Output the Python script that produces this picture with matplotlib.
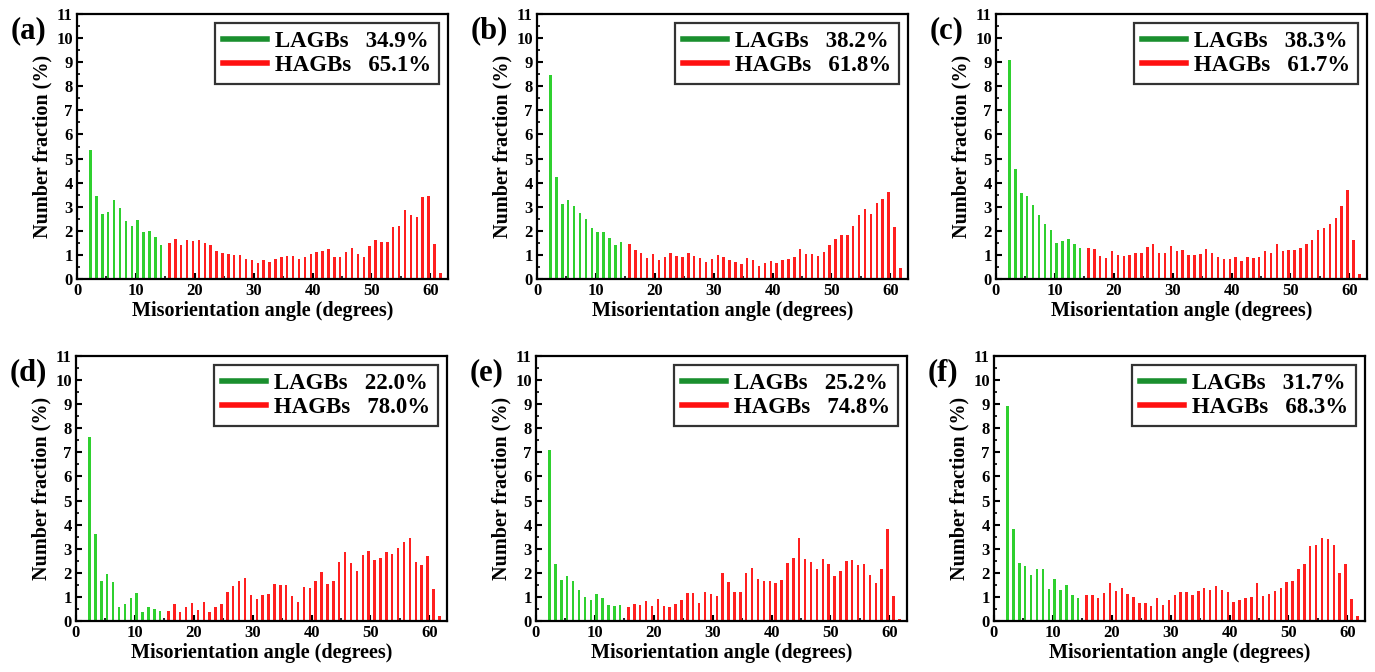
import numpy as np
import matplotlib
matplotlib.use("Agg")
import matplotlib.pyplot as plt
from matplotlib.lines import Line2D
from matplotlib.ticker import MultipleLocator

plt.rcParams["font.family"] = ["Liberation Serif", "DejaVu Serif"]
plt.rcParams["font.weight"] = "bold"

# bin positions (degrees): low-angle bins 2-14, high-angle bins 16-62
lagb_angles = np.arange(2, 15) + 0.3
hagb_angles = np.arange(16, 63) - 0.3

panel_tags = ["(a)", "(b)", "(c)", "(d)", "(e)", "(f)"]
lagb_pct = ["34.9%", "38.2%", "38.3%", "22.0%", "25.2%", "31.7%"]
hagb_pct = ["65.1%", "61.8%", "61.7%", "78.0%", "74.8%", "68.3%"]

lagb_a = [5.35, 3.45, 2.7, 2.8, 3.3, 2.95, 2.4, 2.2, 2.45, 1.95, 2.0, 1.75, 1.4]
hagb_a = [1.5, 1.65, 1.4, 1.6, 1.58, 1.6, 1.5, 1.4, 1.15, 1.07,
          1.02, 0.98, 1.0, 0.83, 0.78, 0.68, 0.77, 0.72, 0.85, 0.92,
          0.95, 0.97, 0.85, 0.93, 1.05, 1.13, 1.15, 1.25, 0.9, 0.93,
          1.13, 1.27, 1.05, 0.92, 1.35, 1.6, 1.55, 1.55, 2.17, 2.22,
          2.85, 2.67, 2.57, 3.42, 3.43, 1.47, 0.25]

lagb_b = [8.47, 4.25, 3.1, 3.28, 3.05, 2.74, 2.49, 2.11, 1.97, 1.94, 1.72, 1.42, 1.54]
hagb_b = [1.44, 1.21, 1.07, 0.89, 1.03, 0.79, 0.93, 1.07, 0.94, 0.92,
          1.1, 0.97, 0.86, 0.72, 0.82, 0.99, 0.92, 0.78, 0.71, 0.63,
          0.86, 0.78, 0.56, 0.67, 0.75, 0.67, 0.79, 0.82, 0.93, 1.24,
          1.04, 1.03, 0.96, 1.14, 1.42, 1.68, 1.81, 1.83, 2.18, 2.67,
          2.9, 2.71, 3.15, 3.33, 3.61, 2.14, 0.47]

lagb_c = [9.07, 4.57, 3.56, 3.43, 3.06, 2.67, 2.29, 2.04, 1.51, 1.56, 1.67, 1.44, 1.28]
hagb_c = [1.28, 1.25, 0.96, 0.89, 1.18, 0.99, 0.94, 1.01, 1.07, 1.07,
          1.32, 1.44, 1.07, 1.07, 1.38, 1.17, 1.21, 1.01, 0.99, 1.04,
          1.24, 1.07, 0.9, 0.81, 0.83, 0.93, 0.76, 0.9, 0.89, 0.9,
          1.18, 1.07, 1.44, 1.18, 1.21, 1.21, 1.28, 1.44, 1.63, 2.04,
          2.11, 2.28, 2.53, 3.01, 3.71, 1.63, 0.19]

lagb_d = [7.65, 3.62, 1.68, 1.95, 1.61, 0.57, 0.71, 0.94, 1.15, 0.37, 0.6, 0.5, 0.43]
hagb_d = [0.43, 0.69, 0.37, 0.6, 0.75, 0.46, 0.8, 0.37, 0.57, 0.71,
          1.2, 1.47, 1.68, 1.8, 1.08, 0.91, 1.07, 1.14, 1.52, 1.5,
          1.51, 1.05, 0.79, 1.4, 1.37, 1.66, 2.02, 1.54, 1.65, 2.45,
          2.85, 2.42, 2.08, 2.73, 2.91, 2.52, 2.6, 2.88, 2.77, 3.02,
          3.27, 3.45, 2.44, 2.33, 2.7, 1.34, 0.21]

lagb_e = [7.1, 2.35, 1.7, 1.87, 1.66, 1.27, 0.98, 0.87, 1.12, 0.97, 0.68, 0.64, 0.68]
hagb_e = [0.58, 0.69, 0.68, 0.84, 0.64, 0.9, 0.64, 0.58, 0.69, 0.87,
          1.18, 1.18, 0.76, 1.22, 1.12, 1.04, 1.98, 1.61, 1.22, 1.22,
          2.0, 2.19, 1.76, 1.66, 1.66, 1.58, 1.7, 2.42, 2.63, 3.43,
          2.59, 2.44, 2.15, 2.59, 2.35, 1.86, 2.08, 2.47, 2.55, 2.31,
          2.37, 1.91, 1.59, 2.15, 3.81, 1.04, 0.1]

lagb_f = [8.92, 3.8, 2.41, 2.29, 1.9, 2.15, 2.17, 1.34, 1.73, 1.27, 1.48, 1.08, 0.94]
hagb_f = [1.09, 1.08, 0.94, 1.15, 1.57, 1.26, 1.36, 1.12, 1.01, 0.73,
          0.73, 0.61, 0.94, 0.65, 0.86, 1.07, 1.22, 1.22, 1.08, 1.25,
          1.36, 1.3, 1.45, 1.29, 1.19, 0.8, 0.89, 0.97, 1.01, 1.57,
          1.03, 1.14, 1.26, 1.37, 1.62, 1.65, 2.15, 2.37, 3.1, 3.17,
          3.46, 3.41, 3.16, 1.98, 2.38, 0.9, 0.22]

lagb_all = [lagb_a, lagb_b, lagb_c, lagb_d, lagb_e, lagb_f]
hagb_all = [hagb_a, hagb_b, hagb_c, hagb_d, hagb_e, hagb_f]

W, H = 1375, 672
fig = plt.figure(figsize=(W / 100, H / 100), dpi=100)

# panel boxes in pixels: left, top
lefts = [[77, 537, 996], [76, 536, 994]]
tops = [14, 356]
pw, ph = 371, 265

bar_green = "#2fd02f"
bar_red = "#ff1f1f"
leg_green = "#1a8f2e"
leg_red = "#ff1010"

for i in range(6):
    r, c = divmod(i, 3)
    l, t = lefts[r][c], tops[r]
    ax = fig.add_axes([l / W, 1 - (t + ph) / H, pw / W, ph / H])

    ax.bar(lagb_angles, lagb_all[i], width=0.42, color=bar_green, zorder=2)
    ax.bar(hagb_angles, hagb_all[i], width=0.42, color=bar_red, zorder=2)

    ax.set_xlim(0, 63)
    ax.set_ylim(0, 11)
    ax.xaxis.set_major_locator(MultipleLocator(10))
    ax.xaxis.set_minor_locator(MultipleLocator(5))
    ax.yaxis.set_major_locator(MultipleLocator(1))
    ax.yaxis.set_minor_locator(MultipleLocator(0.5))
    ax.tick_params(which="major", direction="in", length=4.5, width=1.5,
                   labelsize=12, pad=3)
    ax.tick_params(which="minor", direction="in", length=2.5, width=1.2)
    for s in ax.spines.values():
        s.set_linewidth(1.6)

    ax.set_xlabel("Misorientation angle (degrees)", fontsize=14.5,
                  fontweight="bold", labelpad=1)
    ax.set_ylabel("Number fraction (%)", fontsize=14.5, fontweight="bold",
                  labelpad=3)

    handles = [Line2D([], [], color=leg_green, lw=4),
               Line2D([], [], color=leg_red, lw=4)]
    labels = ["LAGBs   " + lagb_pct[i], "HAGBs   " + hagb_pct[i]]
    leg = ax.legend(handles, labels, loc="upper right", fontsize=16.5,
                    frameon=True, fancybox=False, edgecolor="black",
                    handlelength=1.9, handletextpad=0.35, borderpad=0.35,
                    labelspacing=0.12, borderaxespad=0.4)
    leg.get_frame().set_linewidth(1.6)

    fig.text((l - 66) / W, 1 - (t + 17) / H, panel_tags[i], fontsize=22,
             fontweight="bold", ha="left", va="center")

fig.savefig("out.png", dpi=100)
